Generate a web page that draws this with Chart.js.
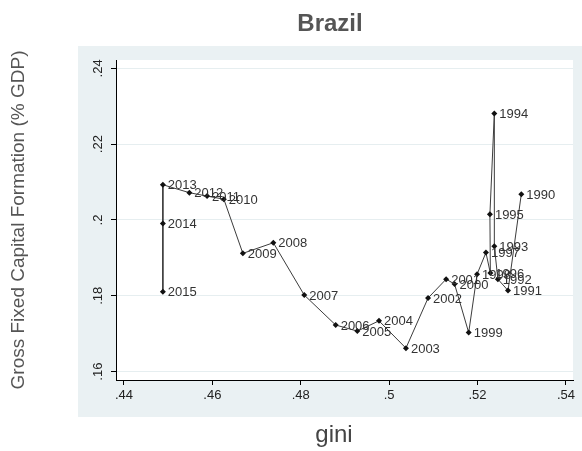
<!DOCTYPE html>
<html><head><meta charset="utf-8">
<script src="https://cdn.jsdelivr.net/npm/chart.js@4.4.1/dist/chart.umd.min.js"></script>
<style>html,body{margin:0;padding:0;background:#fff}#wrap{width:582px;height:451px}</style>
</head><body><div id="wrap"><canvas id="c" width="582" height="451"></canvas></div>
<script>
const years = [1990,1991,1992,1993,1994,1995,1996,1997,1998,1999,2000,2001,2002,2003,2004,2005,2006,2007,2008,2009,2010,2011,2012,2013,2014,2015];
const gini  = [0.5299,0.5269,0.5246,0.5238,0.5238,0.5228,0.5229,0.5219,0.5199,0.5180,0.5148,0.5129,0.5088,0.5038,0.4977,0.4928,0.4879,0.4808,0.4738,0.4669,0.4626,0.4588,0.4548,0.4488,0.4488,0.4488];
const gfcf  = [0.2068,0.1814,0.1844,0.1931,0.2281,0.2015,0.1860,0.1914,0.1857,0.1703,0.1831,0.1844,0.1794,0.1662,0.1734,0.1707,0.1723,0.1802,0.1940,0.1912,0.2055,0.2063,0.2072,0.2093,0.1991,0.1811];
const xTicks = [0.44,0.46,0.48,0.50,0.52,0.54];
const yTicks = [0.16,0.18,0.20,0.22,0.24];
const titleText = 'Brazil';
const xTitle = 'gini';
const yTitle = 'Gross Fixed Capital Formation (% GDP)';

const FONT = '"Liberation Sans", Arial, sans-serif';
function fmt(v){ return String(Number(v.toFixed(2))).replace(/^0\./,'.'); }

const decor = {
  id: 'decor',
  beforeDraw(chart){
    const {ctx, chartArea:a} = chart;
    ctx.save();
    ctx.fillStyle = '#ffffff'; ctx.fillRect(0,0,chart.width,chart.height);
    ctx.fillStyle = '#eaf1f3'; ctx.fillRect(78,46,chart.width-78,417-46);
    ctx.fillStyle = '#ffffff'; ctx.fillRect(a.left,a.top,a.right-a.left,a.bottom-a.top);
    ctx.restore();
  },
  afterDatasetsDraw(chart){
    const {ctx} = chart;
    const meta = chart.getDatasetMeta(0);
    ctx.save();
    ctx.font = '13px ' + FONT;
    ctx.fillStyle = '#333';
    ctx.textAlign = 'left';
    ctx.textBaseline = 'middle';
    meta.data.forEach((pt,i)=>{
      ctx.fillText(String(years[i]), pt.x + 5, pt.y + 1);
    });
    ctx.restore();
  },
  afterDraw(chart){
    const {ctx} = chart;
    const ys = chart.scales.y;
    ctx.save();
    ctx.font = '13px ' + FONT;
    ctx.fillStyle = '#222';
    ctx.textAlign = 'center';
    ctx.textBaseline = 'middle';
    yTicks.forEach(v=>{
      const py = ys.getPixelForValue(v);
      ctx.save();
      ctx.translate(98, py);
      ctx.rotate(-Math.PI/2);
      ctx.fillText(fmt(v), 0, 0);
      ctx.restore();
    });
    ctx.font = 'bold 24px ' + FONT;
    ctx.fillStyle = '#555';
    ctx.fillText(titleText, 330, 24);
    ctx.font = '24px ' + FONT;
    ctx.fillStyle = '#444';
    ctx.fillText(xTitle, 334, 435);
    ctx.restore();
  }
};

new Chart(document.getElementById('c'), {
  type: 'scatter',
  data: {
    datasets: [{
      data: gini.map((g,i)=>({x:g, y:gfcf[i]})),
      showLine: true,
      borderColor: '#3c3c3c',
      borderWidth: 1,
      pointStyle: 'rectRot',
      pointRadius: 3,
      pointBackgroundColor: '#111',
      pointBorderColor: '#111',
      pointBorderWidth: 0,
      tension: 0
    }]
  },
  options: {
    responsive: false,
    animation: false,
    devicePixelRatio: 1,
    layout: { padding: { left: 0, top: 60, right: 9, bottom: 0 } },
    plugins: { legend: { display: false }, tooltip: { enabled: false }, title: { display: false } },
    scales: {
      x: {
        type: 'linear', min: 0.4382, max: 0.5416,
        afterBuildTicks(s){ s.ticks = xTicks.map(v=>({value:v})); },
        afterFit(s){ s.height = 71; },
        grid: { drawOnChartArea: false, tickLength: 5, tickColor: '#000' },
        border: { color: '#000', width: 1 },
        ticks: { autoSkip: false, maxRotation: 0, minRotation: 0, padding: 3, color: '#222',
                 font: { family: FONT, size: 13 }, callback: v => fmt(v) }
      },
      y: {
        type: 'linear', min: 0.1578, max: 0.2422,
        afterBuildTicks(s){ s.ticks = yTicks.map(v=>({value:v})); },
        afterFit(s){ s.width = 116; },
        grid: { color: '#e6eef0', lineWidth: 1, tickLength: 5, tickColor: '#000' },
        border: { color: '#000', width: 1 },
        ticks: { display: false },
        title: { display: true, text: yTitle, color: '#555', font: { family: FONT, size: 19 }, padding: { top: 7, bottom: 0 } }
      }
    }
  },
  plugins: [decor]
});
</script>
</body></html>
